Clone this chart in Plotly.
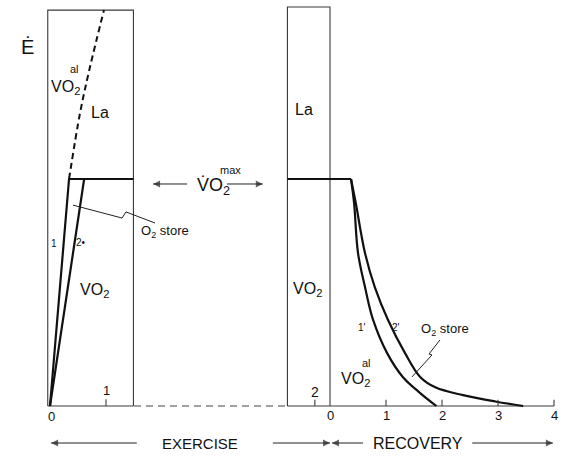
import plotly.graph_objects as go

# ---------------- data (time in min, E in units of VO2max) ----------------
# exercise panel
ex_t1 = [0.0, 0.34, 1.49]
ex_e1 = [0.0, 1.0, 1.0]
ex_t2 = [0.0, 0.61]
ex_e2 = [0.0, 1.0]
la_t = [0.34, 0.536, 0.714, 0.964]
la_e = [1.0, 1.29, 1.493, 1.744]
ex_box_t = [-0.04, -0.04, 1.49, 1.49]
ex_box_e = [0.0, 1.744, 1.744, 0.0]
ex_base_t = [-0.04, 1.49]

# recovery panel
plateau_t = [-0.76, 0.375]
plateau_e = [1.0, 1.0]
rec_t1 = [0.375, 0.43, 0.50, 0.625, 0.77, 1.02, 1.30, 1.61, 1.90]
rec_e1 = [1.0, 0.894, 0.674, 0.524, 0.379, 0.233, 0.128, 0.057, 0.0]
rec_t2 = [0.375, 0.46, 0.625, 0.80, 1.036, 1.34, 1.61, 1.89, 2.375, 2.95, 3.45]
rec_e2 = [1.0, 0.894, 0.674, 0.524, 0.379, 0.233, 0.128, 0.081, 0.048, 0.02, 0.0]
rec_box_t = [-0.76, -0.76, 0.0, 0.0]
rec_box_e = [0.0, 1.758, 1.758, 0.0]
rec_base_t = [-0.76, 4.0]
gap_t = [-3.5, -0.76]

ex_ticks = [1]
ex_tick_labels = ["1"]
rec_ticks = [-0.27, 1, 2, 3, 4]
rec_tick_labels = ["0", "1", "2", "3", "4"]
rec_tick_vals = [0, 1, 2, 3, 4]

# leader lines (O2 store)
lead1_t = [0.411, 1.286, 1.357, 1.875]
lead1_e = [0.885, 0.828, 0.855, 0.806]
lead2_t = [1.464, 1.821, 1.768, 1.964]
lead2_e = [0.128, 0.225, 0.229, 0.291]

# arrows: (tail, head, level, axis)
arrows = [
    (2.45, 1.84, 0.978, "x"),
    (3.16, 3.80, 0.978, "x"),
    (1.55, 0.02, -0.163, "x"),
    (3.98, 5.0, -0.163, "x"),
    (0.59, 0.036, -0.163, "x2"),
    (2.54, 3.98, -0.163, "x2"),
]

# ---------------- figure ----------------
W, H = 567, 459
PX = 56.0   # px per minute
PY = 227.0  # px per unit E
X0_EX, X0_REC, Y0 = 50.0, 330.0, 406.0

fig = go.Figure()
BOX = dict(color="#3a3a3a", width=1.1)
CUR = dict(color="#111111", width=2.2)

def add(x, y, line, axis="x", dash=None, shape="linear"):
    ln = dict(line)
    if dash:
        ln["dash"] = dash
    ln["shape"] = shape
    if shape == "spline":
        ln["smoothing"] = 1.0
    fig.add_trace(go.Scatter(x=x, y=y, mode="lines", line=ln, xaxis=axis, yaxis="y",
                             hoverinfo="skip", showlegend=False))

# exercise panel
add(ex_box_t, ex_box_e, BOX)
add(ex_base_t, [0, 0], BOX)
add(ex_t1, ex_e1, CUR)
add(ex_t2, ex_e2, CUR)
add(la_t, la_e, dict(color="#111111", width=2.0), dash="6px,4px", shape="spline")
for t in ex_ticks:
    add([t, t], [0, 0.03], BOX)
add(lead1_t, lead1_e, dict(color="#222222", width=1.0))

# recovery panel
add(rec_box_t, rec_box_e, BOX, "x2")
add(rec_base_t, [0, 0], BOX, "x2")
add(gap_t, [0, 0], dict(color="#444444", width=1.1), "x2", dash="7px,5px")
add(plateau_t, plateau_e, CUR, "x2")
add(rec_t1, rec_e1, CUR, "x2", shape="spline")
add(rec_t2, rec_e2, CUR, "x2", shape="spline")
for t in rec_ticks:
    add([t, t], [0, 0.028], BOX, "x2")
add(lead2_t, lead2_e, dict(color="#222222", width=1.0), "x2")

# arrows as lines with arrow-head markers
for tail, head, lvl, ax in arrows:
    sym = "arrow-right" if head > tail else "arrow-left"
    fig.add_trace(go.Scatter(
        x=[tail, head], y=[lvl, lvl], mode="lines+markers", xaxis=ax, yaxis="y",
        line=dict(color="#222222", width=1.0),
        marker=dict(symbol=["circle", sym], size=[0, 7], color="#222222",
                    line=dict(width=0)),
        hoverinfo="skip", showlegend=False))

FONT = "Liberation Sans, Arial, sans-serif"
anns = []

def txt(x, y, s, size, xref="x", **kw):
    d = dict(x=x, y=y, xref=xref, yref="y", text=s, showarrow=False,
             font=dict(family=FONT, size=size, color="#111111"))
    d.update(kw)
    anns.append(d)

# exercise texts
txt(-0.41, 1.58, "Ė", 20)
txt(0.27, 1.405, "VO<sub>2</sub>", 16)
txt(0.44, 1.485, "al", 11)
txt(0.893, 1.291, "La", 16)
txt(0.07, 0.718, "1", 10)
txt(0.56, 0.722, "2•", 10)
txt(0.80, 0.511, "VO<sub>2</sub>", 16)
txt(2.05, 0.77, "O<sub>2</sub> store", 13)
txt(0.03, -0.048, "0", 13)
for t, s in zip(ex_ticks, ex_tick_labels):
    txt(t, 0.07, s, 13)

# recovery texts
txt(-0.464, 1.304, "La", 16, "x2")
txt(-0.41, 0.515, "VO<sub>2</sub>", 16, "x2")
txt(-0.27, 0.062, "2", 14, "x2")
txt(0.58, 0.348, "1'", 10, "x2")
txt(1.18, 0.348, "2'", 10, "x2")
txt(0.46, 0.118, "VO<sub>2</sub>", 16, "x2")
txt(0.66, 0.19, "al", 11, "x2")
txt(2.05, 0.339, "O<sub>2</sub> store", 13, "x2")
for t, s in zip(rec_tick_vals, rec_tick_labels):
    txt(t, -0.04, s, 13, "x2")

# VO2max between panels
txt(2.92, 0.965, "V̇O<sub>2</sub>", 18)
txt(3.22, 1.04, "max", 11)

# bottom labels
txt(2.68, -0.163, "EXERCISE", 15)
txt(1.57, -0.163, "RECOVERY", 16, "x2")

fig.update_layout(
    width=W, height=H, margin=dict(l=0, r=0, t=0, b=0),
    paper_bgcolor="white", plot_bgcolor="white",
    xaxis=dict(range=[-X0_EX / PX, (W - X0_EX) / PX], domain=[0, 1], visible=False),
    xaxis2=dict(range=[-X0_REC / PX, (W - X0_REC) / PX], domain=[0, 1],
                overlaying="x", anchor="y", visible=False),
    yaxis=dict(range=[-(H - Y0) / PY, Y0 / PY], domain=[0, 1], visible=False),
    annotations=anns,
    showlegend=False,
)

fig.write_html("out.html")
